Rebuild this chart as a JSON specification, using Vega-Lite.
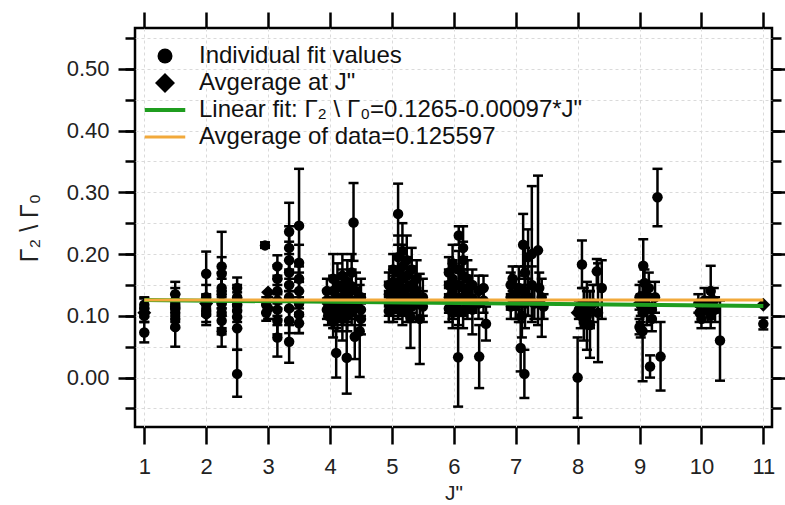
{
  "$schema": "https://vega.github.io/schema/vega-lite/v6.json",
  "width": 637,
  "height": 399,
  "autosize": {"type": "none"},
  "padding": {"left": 135, "top": 28, "right": 13, "bottom": 78},
  "background": "white",
  "config": {
    "view": {"stroke": "black", "strokeWidth": 2.5},
    "font": "Liberation Sans",
    "axis": {
      "domain": false, "tickColor": "black", "tickWidth": 2.5,
      "labelColor": "#222", "labelFont": "Liberation Sans", "labelFontSize": 22,
      "titleFont": "Liberation Sans", "titleFontWeight": "normal", "titleColor": "#222",
      "gridColor": "#dadada", "gridDash": [3, 3], "gridWidth": 1,
      "labelFlush": false, "labelOverlap": false
    },
    "legend": {
      "orient": "none", "legendX": 18, "legendY": 16,
      "labelFont": "Liberation Sans", "labelFontSize": 24, "labelColor": "#111",
      "symbolSize": 225, "symbolStrokeWidth": 0, "labelOffset": 22,
      "rowPadding": 3, "padding": 0, "labelLimit": 700
    }
  },
  "datasets": {
    "pts": [
      {"j":1.0,"g":0.073,"lo":0.057,"hi":0.090,"s":"Individual fit values"},
      {"j":1.0,"g":0.112,"lo":0.098,"hi":0.128,"s":"Individual fit values"},
      {"j":1.0,"g":0.118,"lo":0.105,"hi":0.130,"s":"Individual fit values"},
      {"j":1.0,"g":0.100,"lo":0.090,"hi":0.112,"s":"Individual fit values"},
      {"j":1.5,"g":0.135,"lo":0.118,"hi":0.155,"s":"Individual fit values"},
      {"j":1.5,"g":0.125,"lo":0.110,"hi":0.145,"s":"Individual fit values"},
      {"j":1.5,"g":0.115,"lo":0.100,"hi":0.135,"s":"Individual fit values"},
      {"j":1.5,"g":0.105,"lo":0.090,"hi":0.120,"s":"Individual fit values"},
      {"j":1.5,"g":0.095,"lo":0.080,"hi":0.112,"s":"Individual fit values"},
      {"j":1.5,"g":0.082,"lo":0.050,"hi":0.112,"s":"Individual fit values"},
      {"j":2.0,"g":0.168,"lo":0.133,"hi":0.204,"s":"Individual fit values"},
      {"j":2.0,"g":0.130,"lo":0.112,"hi":0.150,"s":"Individual fit values"},
      {"j":2.0,"g":0.118,"lo":0.100,"hi":0.135,"s":"Individual fit values"},
      {"j":2.0,"g":0.108,"lo":0.090,"hi":0.125,"s":"Individual fit values"},
      {"j":2.0,"g":0.103,"lo":0.085,"hi":0.120,"s":"Individual fit values"},
      {"j":2.25,"g":0.180,"lo":0.125,"hi":0.236,"s":"Individual fit values"},
      {"j":2.25,"g":0.168,"lo":0.140,"hi":0.195,"s":"Individual fit values"},
      {"j":2.25,"g":0.145,"lo":0.120,"hi":0.170,"s":"Individual fit values"},
      {"j":2.25,"g":0.135,"lo":0.112,"hi":0.160,"s":"Individual fit values"},
      {"j":2.25,"g":0.120,"lo":0.100,"hi":0.140,"s":"Individual fit values"},
      {"j":2.25,"g":0.105,"lo":0.080,"hi":0.130,"s":"Individual fit values"},
      {"j":2.25,"g":0.092,"lo":0.070,"hi":0.112,"s":"Individual fit values"},
      {"j":2.25,"g":0.075,"lo":0.050,"hi":0.100,"s":"Individual fit values"},
      {"j":2.5,"g":0.145,"lo":0.128,"hi":0.162,"s":"Individual fit values"},
      {"j":2.5,"g":0.130,"lo":0.110,"hi":0.150,"s":"Individual fit values"},
      {"j":2.5,"g":0.118,"lo":0.098,"hi":0.138,"s":"Individual fit values"},
      {"j":2.5,"g":0.108,"lo":0.090,"hi":0.128,"s":"Individual fit values"},
      {"j":2.5,"g":0.098,"lo":0.080,"hi":0.118,"s":"Individual fit values"},
      {"j":2.5,"g":0.080,"lo":0.045,"hi":0.115,"s":"Individual fit values"},
      {"j":2.5,"g":0.006,"lo":-0.031,"hi":0.045,"s":"Individual fit values"},
      {"j":2.95,"g":0.214,"lo":0.210,"hi":0.219,"s":"Individual fit values"},
      {"j":2.97,"g":0.118,"lo":0.105,"hi":0.130,"s":"Individual fit values"},
      {"j":2.97,"g":0.105,"lo":0.092,"hi":0.118,"s":"Individual fit values"},
      {"j":3.0,"g":0.112,"lo":0.095,"hi":0.130,"s":"Individual fit values"},
      {"j":3.15,"g":0.180,"lo":0.165,"hi":0.198,"s":"Individual fit values"},
      {"j":3.15,"g":0.160,"lo":0.138,"hi":0.182,"s":"Individual fit values"},
      {"j":3.15,"g":0.140,"lo":0.120,"hi":0.160,"s":"Individual fit values"},
      {"j":3.15,"g":0.125,"lo":0.100,"hi":0.150,"s":"Individual fit values"},
      {"j":3.15,"g":0.110,"lo":0.085,"hi":0.135,"s":"Individual fit values"},
      {"j":3.15,"g":0.092,"lo":0.070,"hi":0.112,"s":"Individual fit values"},
      {"j":3.15,"g":0.065,"lo":0.034,"hi":0.095,"s":"Individual fit values"},
      {"j":3.34,"g":0.236,"lo":0.190,"hi":0.283,"s":"Individual fit values"},
      {"j":3.34,"g":0.210,"lo":0.175,"hi":0.245,"s":"Individual fit values"},
      {"j":3.34,"g":0.190,"lo":0.160,"hi":0.220,"s":"Individual fit values"},
      {"j":3.34,"g":0.170,"lo":0.140,"hi":0.200,"s":"Individual fit values"},
      {"j":3.34,"g":0.150,"lo":0.130,"hi":0.172,"s":"Individual fit values"},
      {"j":3.34,"g":0.130,"lo":0.110,"hi":0.150,"s":"Individual fit values"},
      {"j":3.34,"g":0.112,"lo":0.085,"hi":0.140,"s":"Individual fit values"},
      {"j":3.34,"g":0.092,"lo":0.072,"hi":0.112,"s":"Individual fit values"},
      {"j":3.34,"g":0.058,"lo":0.024,"hi":0.092,"s":"Individual fit values"},
      {"j":3.5,"g":0.246,"lo":0.155,"hi":0.338,"s":"Individual fit values"},
      {"j":3.5,"g":0.186,"lo":0.155,"hi":0.215,"s":"Individual fit values"},
      {"j":3.5,"g":0.160,"lo":0.140,"hi":0.180,"s":"Individual fit values"},
      {"j":3.5,"g":0.140,"lo":0.112,"hi":0.170,"s":"Individual fit values"},
      {"j":3.5,"g":0.120,"lo":0.100,"hi":0.140,"s":"Individual fit values"},
      {"j":3.5,"g":0.102,"lo":0.072,"hi":0.130,"s":"Individual fit values"},
      {"j":3.5,"g":0.088,"lo":0.072,"hi":0.105,"s":"Individual fit values"},
      {"j":3.95,"g":0.140,"lo":0.120,"hi":0.160,"s":"Individual fit values"},
      {"j":3.95,"g":0.125,"lo":0.110,"hi":0.142,"s":"Individual fit values"},
      {"j":3.95,"g":0.110,"lo":0.095,"hi":0.128,"s":"Individual fit values"},
      {"j":3.97,"g":0.100,"lo":0.085,"hi":0.118,"s":"Individual fit values"},
      {"j":4.05,"g":0.160,"lo":0.120,"hi":0.200,"s":"Individual fit values"},
      {"j":4.05,"g":0.140,"lo":0.115,"hi":0.165,"s":"Individual fit values"},
      {"j":4.05,"g":0.122,"lo":0.100,"hi":0.145,"s":"Individual fit values"},
      {"j":4.05,"g":0.105,"lo":0.080,"hi":0.130,"s":"Individual fit values"},
      {"j":4.05,"g":0.090,"lo":0.065,"hi":0.115,"s":"Individual fit values"},
      {"j":4.1,"g":0.040,"lo":0.000,"hi":0.080,"s":"Individual fit values"},
      {"j":4.12,"g":0.150,"lo":0.115,"hi":0.185,"s":"Individual fit values"},
      {"j":4.12,"g":0.130,"lo":0.100,"hi":0.160,"s":"Individual fit values"},
      {"j":4.12,"g":0.115,"lo":0.090,"hi":0.140,"s":"Individual fit values"},
      {"j":4.12,"g":0.098,"lo":0.075,"hi":0.120,"s":"Individual fit values"},
      {"j":4.2,"g":0.165,"lo":0.130,"hi":0.200,"s":"Individual fit values"},
      {"j":4.2,"g":0.145,"lo":0.115,"hi":0.175,"s":"Individual fit values"},
      {"j":4.2,"g":0.128,"lo":0.100,"hi":0.155,"s":"Individual fit values"},
      {"j":4.2,"g":0.110,"lo":0.085,"hi":0.135,"s":"Individual fit values"},
      {"j":4.2,"g":0.095,"lo":0.060,"hi":0.130,"s":"Individual fit values"},
      {"j":4.27,"g":0.032,"lo":-0.026,"hi":0.090,"s":"Individual fit values"},
      {"j":4.28,"g":0.155,"lo":0.120,"hi":0.190,"s":"Individual fit values"},
      {"j":4.28,"g":0.135,"lo":0.110,"hi":0.160,"s":"Individual fit values"},
      {"j":4.28,"g":0.118,"lo":0.090,"hi":0.145,"s":"Individual fit values"},
      {"j":4.28,"g":0.100,"lo":0.075,"hi":0.125,"s":"Individual fit values"},
      {"j":4.38,"g":0.251,"lo":0.189,"hi":0.315,"s":"Individual fit values"},
      {"j":4.35,"g":0.170,"lo":0.140,"hi":0.200,"s":"Individual fit values"},
      {"j":4.35,"g":0.148,"lo":0.120,"hi":0.175,"s":"Individual fit values"},
      {"j":4.35,"g":0.125,"lo":0.100,"hi":0.150,"s":"Individual fit values"},
      {"j":4.35,"g":0.108,"lo":0.085,"hi":0.130,"s":"Individual fit values"},
      {"j":4.4,"g":0.066,"lo":0.030,"hi":0.100,"s":"Individual fit values"},
      {"j":4.42,"g":0.140,"lo":0.110,"hi":0.170,"s":"Individual fit values"},
      {"j":4.42,"g":0.120,"lo":0.095,"hi":0.145,"s":"Individual fit values"},
      {"j":4.48,"g":0.075,"lo":0.001,"hi":0.150,"s":"Individual fit values"},
      {"j":4.5,"g":0.130,"lo":0.100,"hi":0.160,"s":"Individual fit values"},
      {"j":4.5,"g":0.110,"lo":0.085,"hi":0.135,"s":"Individual fit values"},
      {"j":4.5,"g":0.095,"lo":0.070,"hi":0.120,"s":"Individual fit values"},
      {"j":4.95,"g":0.150,"lo":0.130,"hi":0.170,"s":"Individual fit values"},
      {"j":4.95,"g":0.135,"lo":0.115,"hi":0.155,"s":"Individual fit values"},
      {"j":4.95,"g":0.120,"lo":0.100,"hi":0.140,"s":"Individual fit values"},
      {"j":4.95,"g":0.108,"lo":0.090,"hi":0.125,"s":"Individual fit values"},
      {"j":5.02,"g":0.175,"lo":0.150,"hi":0.200,"s":"Individual fit values"},
      {"j":5.02,"g":0.155,"lo":0.130,"hi":0.180,"s":"Individual fit values"},
      {"j":5.02,"g":0.140,"lo":0.115,"hi":0.165,"s":"Individual fit values"},
      {"j":5.02,"g":0.125,"lo":0.100,"hi":0.150,"s":"Individual fit values"},
      {"j":5.02,"g":0.112,"lo":0.090,"hi":0.135,"s":"Individual fit values"},
      {"j":5.1,"g":0.265,"lo":0.215,"hi":0.314,"s":"Individual fit values"},
      {"j":5.1,"g":0.195,"lo":0.160,"hi":0.230,"s":"Individual fit values"},
      {"j":5.1,"g":0.170,"lo":0.140,"hi":0.200,"s":"Individual fit values"},
      {"j":5.1,"g":0.150,"lo":0.125,"hi":0.175,"s":"Individual fit values"},
      {"j":5.1,"g":0.130,"lo":0.105,"hi":0.155,"s":"Individual fit values"},
      {"j":5.1,"g":0.115,"lo":0.095,"hi":0.135,"s":"Individual fit values"},
      {"j":5.17,"g":0.205,"lo":0.160,"hi":0.250,"s":"Individual fit values"},
      {"j":5.17,"g":0.180,"lo":0.145,"hi":0.215,"s":"Individual fit values"},
      {"j":5.17,"g":0.160,"lo":0.130,"hi":0.190,"s":"Individual fit values"},
      {"j":5.17,"g":0.140,"lo":0.115,"hi":0.165,"s":"Individual fit values"},
      {"j":5.17,"g":0.122,"lo":0.100,"hi":0.145,"s":"Individual fit values"},
      {"j":5.17,"g":0.108,"lo":0.085,"hi":0.130,"s":"Individual fit values"},
      {"j":5.24,"g":0.190,"lo":0.150,"hi":0.230,"s":"Individual fit values"},
      {"j":5.24,"g":0.165,"lo":0.135,"hi":0.195,"s":"Individual fit values"},
      {"j":5.24,"g":0.145,"lo":0.120,"hi":0.170,"s":"Individual fit values"},
      {"j":5.24,"g":0.128,"lo":0.100,"hi":0.155,"s":"Individual fit values"},
      {"j":5.24,"g":0.112,"lo":0.090,"hi":0.135,"s":"Individual fit values"},
      {"j":5.3,"g":0.098,"lo":0.048,"hi":0.148,"s":"Individual fit values"},
      {"j":5.32,"g":0.175,"lo":0.140,"hi":0.210,"s":"Individual fit values"},
      {"j":5.32,"g":0.150,"lo":0.120,"hi":0.180,"s":"Individual fit values"},
      {"j":5.32,"g":0.130,"lo":0.105,"hi":0.155,"s":"Individual fit values"},
      {"j":5.32,"g":0.115,"lo":0.090,"hi":0.140,"s":"Individual fit values"},
      {"j":5.4,"g":0.160,"lo":0.130,"hi":0.190,"s":"Individual fit values"},
      {"j":5.4,"g":0.140,"lo":0.115,"hi":0.165,"s":"Individual fit values"},
      {"j":5.4,"g":0.120,"lo":0.095,"hi":0.145,"s":"Individual fit values"},
      {"j":5.45,"g":0.095,"lo":0.022,"hi":0.168,"s":"Individual fit values"},
      {"j":5.5,"g":0.130,"lo":0.100,"hi":0.160,"s":"Individual fit values"},
      {"j":5.5,"g":0.115,"lo":0.090,"hi":0.140,"s":"Individual fit values"},
      {"j":5.92,"g":0.170,"lo":0.145,"hi":0.195,"s":"Individual fit values"},
      {"j":5.92,"g":0.150,"lo":0.125,"hi":0.175,"s":"Individual fit values"},
      {"j":5.92,"g":0.130,"lo":0.105,"hi":0.155,"s":"Individual fit values"},
      {"j":5.92,"g":0.112,"lo":0.090,"hi":0.135,"s":"Individual fit values"},
      {"j":5.98,"g":0.185,"lo":0.155,"hi":0.215,"s":"Individual fit values"},
      {"j":5.98,"g":0.160,"lo":0.130,"hi":0.190,"s":"Individual fit values"},
      {"j":5.98,"g":0.140,"lo":0.110,"hi":0.170,"s":"Individual fit values"},
      {"j":5.98,"g":0.120,"lo":0.095,"hi":0.145,"s":"Individual fit values"},
      {"j":5.98,"g":0.105,"lo":0.080,"hi":0.130,"s":"Individual fit values"},
      {"j":6.07,"g":0.033,"lo":-0.047,"hi":0.114,"s":"Individual fit values"},
      {"j":6.08,"g":0.230,"lo":0.215,"hi":0.245,"s":"Individual fit values"},
      {"j":6.08,"g":0.175,"lo":0.145,"hi":0.205,"s":"Individual fit values"},
      {"j":6.08,"g":0.150,"lo":0.120,"hi":0.180,"s":"Individual fit values"},
      {"j":6.08,"g":0.128,"lo":0.100,"hi":0.155,"s":"Individual fit values"},
      {"j":6.08,"g":0.110,"lo":0.085,"hi":0.135,"s":"Individual fit values"},
      {"j":6.15,"g":0.210,"lo":0.175,"hi":0.245,"s":"Individual fit values"},
      {"j":6.15,"g":0.190,"lo":0.160,"hi":0.220,"s":"Individual fit values"},
      {"j":6.15,"g":0.165,"lo":0.135,"hi":0.195,"s":"Individual fit values"},
      {"j":6.15,"g":0.145,"lo":0.115,"hi":0.175,"s":"Individual fit values"},
      {"j":6.15,"g":0.125,"lo":0.100,"hi":0.150,"s":"Individual fit values"},
      {"j":6.15,"g":0.108,"lo":0.080,"hi":0.135,"s":"Individual fit values"},
      {"j":6.22,"g":0.160,"lo":0.130,"hi":0.190,"s":"Individual fit values"},
      {"j":6.22,"g":0.138,"lo":0.110,"hi":0.165,"s":"Individual fit values"},
      {"j":6.22,"g":0.118,"lo":0.095,"hi":0.140,"s":"Individual fit values"},
      {"j":6.3,"g":0.150,"lo":0.125,"hi":0.175,"s":"Individual fit values"},
      {"j":6.3,"g":0.128,"lo":0.105,"hi":0.150,"s":"Individual fit values"},
      {"j":6.3,"g":0.110,"lo":0.070,"hi":0.130,"s":"Individual fit values"},
      {"j":6.41,"g":0.034,"lo":-0.017,"hi":0.085,"s":"Individual fit values"},
      {"j":6.4,"g":0.140,"lo":0.115,"hi":0.165,"s":"Individual fit values"},
      {"j":6.4,"g":0.120,"lo":0.095,"hi":0.145,"s":"Individual fit values"},
      {"j":6.48,"g":0.145,"lo":0.125,"hi":0.165,"s":"Individual fit values"},
      {"j":6.48,"g":0.125,"lo":0.105,"hi":0.145,"s":"Individual fit values"},
      {"j":6.52,"g":0.087,"lo":0.060,"hi":0.115,"s":"Individual fit values"},
      {"j":6.92,"g":0.150,"lo":0.130,"hi":0.170,"s":"Individual fit values"},
      {"j":6.92,"g":0.130,"lo":0.110,"hi":0.150,"s":"Individual fit values"},
      {"j":6.92,"g":0.115,"lo":0.095,"hi":0.135,"s":"Individual fit values"},
      {"j":6.95,"g":0.160,"lo":0.140,"hi":0.180,"s":"Individual fit values"},
      {"j":7.0,"g":0.135,"lo":0.110,"hi":0.160,"s":"Individual fit values"},
      {"j":7.0,"g":0.118,"lo":0.095,"hi":0.140,"s":"Individual fit values"},
      {"j":7.05,"g":0.145,"lo":0.110,"hi":0.180,"s":"Individual fit values"},
      {"j":7.05,"g":0.120,"lo":0.090,"hi":0.150,"s":"Individual fit values"},
      {"j":7.08,"g":0.048,"lo":0.010,"hi":0.090,"s":"Individual fit values"},
      {"j":7.1,"g":0.100,"lo":0.065,"hi":0.135,"s":"Individual fit values"},
      {"j":7.12,"g":0.215,"lo":0.165,"hi":0.265,"s":"Individual fit values"},
      {"j":7.14,"g":0.006,"lo":-0.033,"hi":0.045,"s":"Individual fit values"},
      {"j":7.15,"g":0.170,"lo":0.130,"hi":0.210,"s":"Individual fit values"},
      {"j":7.15,"g":0.140,"lo":0.100,"hi":0.180,"s":"Individual fit values"},
      {"j":7.15,"g":0.120,"lo":0.080,"hi":0.160,"s":"Individual fit values"},
      {"j":7.2,"g":0.195,"lo":0.150,"hi":0.240,"s":"Individual fit values"},
      {"j":7.2,"g":0.130,"lo":0.100,"hi":0.160,"s":"Individual fit values"},
      {"j":7.26,"g":0.200,"lo":0.090,"hi":0.310,"s":"Individual fit values"},
      {"j":7.26,"g":0.150,"lo":0.120,"hi":0.180,"s":"Individual fit values"},
      {"j":7.3,"g":0.120,"lo":0.095,"hi":0.145,"s":"Individual fit values"},
      {"j":7.36,"g":0.206,"lo":0.085,"hi":0.327,"s":"Individual fit values"},
      {"j":7.38,"g":0.145,"lo":0.120,"hi":0.170,"s":"Individual fit values"},
      {"j":7.42,"g":0.130,"lo":0.066,"hi":0.160,"s":"Individual fit values"},
      {"j":7.45,"g":0.115,"lo":0.095,"hi":0.135,"s":"Individual fit values"},
      {"j":8.0,"g":0.000,"lo":-0.065,"hi":0.065,"s":"Individual fit values"},
      {"j":8.07,"g":0.183,"lo":0.145,"hi":0.222,"s":"Individual fit values"},
      {"j":8.02,"g":0.110,"lo":0.095,"hi":0.125,"s":"Individual fit values"},
      {"j":8.05,"g":0.100,"lo":0.080,"hi":0.120,"s":"Individual fit values"},
      {"j":8.1,"g":0.120,"lo":0.095,"hi":0.145,"s":"Individual fit values"},
      {"j":8.1,"g":0.090,"lo":0.060,"hi":0.120,"s":"Individual fit values"},
      {"j":8.15,"g":0.100,"lo":0.045,"hi":0.155,"s":"Individual fit values"},
      {"j":8.15,"g":0.115,"lo":0.090,"hi":0.140,"s":"Individual fit values"},
      {"j":8.2,"g":0.085,"lo":0.032,"hi":0.140,"s":"Individual fit values"},
      {"j":8.2,"g":0.110,"lo":0.080,"hi":0.140,"s":"Individual fit values"},
      {"j":8.25,"g":0.120,"lo":0.090,"hi":0.150,"s":"Individual fit values"},
      {"j":8.31,"g":0.172,"lo":0.150,"hi":0.192,"s":"Individual fit values"},
      {"j":8.33,"g":0.105,"lo":0.025,"hi":0.185,"s":"Individual fit values"},
      {"j":8.39,"g":0.145,"lo":0.095,"hi":0.190,"s":"Individual fit values"},
      {"j":9.29,"g":0.292,"lo":0.245,"hi":0.338,"s":"Individual fit values"},
      {"j":9.06,"g":0.181,"lo":0.138,"hi":0.224,"s":"Individual fit values"},
      {"j":9.0,"g":0.130,"lo":0.110,"hi":0.150,"s":"Individual fit values"},
      {"j":9.02,"g":0.118,"lo":0.100,"hi":0.135,"s":"Individual fit values"},
      {"j":9.05,"g":0.105,"lo":0.085,"hi":0.125,"s":"Individual fit values"},
      {"j":9.08,"g":0.153,"lo":0.130,"hi":0.175,"s":"Individual fit values"},
      {"j":9.1,"g":0.130,"lo":0.105,"hi":0.155,"s":"Individual fit values"},
      {"j":9.0,"g":0.082,"lo":0.070,"hi":0.095,"s":"Individual fit values"},
      {"j":9.02,"g":0.078,"lo":0.065,"hi":0.090,"s":"Individual fit values"},
      {"j":9.12,"g":0.110,"lo":0.085,"hi":0.135,"s":"Individual fit values"},
      {"j":9.15,"g":0.145,"lo":0.120,"hi":0.170,"s":"Individual fit values"},
      {"j":9.05,"g":0.075,"lo":-0.006,"hi":0.155,"s":"Individual fit values"},
      {"j":9.17,"g":0.018,"lo":0.000,"hi":0.036,"s":"Individual fit values"},
      {"j":9.34,"g":0.034,"lo":-0.021,"hi":0.090,"s":"Individual fit values"},
      {"j":9.2,"g":0.110,"lo":0.090,"hi":0.130,"s":"Individual fit values"},
      {"j":9.25,"g":0.130,"lo":0.105,"hi":0.155,"s":"Individual fit values"},
      {"j":9.2,"g":0.095,"lo":0.075,"hi":0.115,"s":"Individual fit values"},
      {"j":9.95,"g":0.120,"lo":0.105,"hi":0.135,"s":"Individual fit values"},
      {"j":9.97,"g":0.105,"lo":0.090,"hi":0.120,"s":"Individual fit values"},
      {"j":10.0,"g":0.095,"lo":0.080,"hi":0.110,"s":"Individual fit values"},
      {"j":10.05,"g":0.125,"lo":0.105,"hi":0.145,"s":"Individual fit values"},
      {"j":10.1,"g":0.110,"lo":0.090,"hi":0.130,"s":"Individual fit values"},
      {"j":10.15,"g":0.140,"lo":0.100,"hi":0.181,"s":"Individual fit values"},
      {"j":10.15,"g":0.100,"lo":0.080,"hi":0.120,"s":"Individual fit values"},
      {"j":10.2,"g":0.125,"lo":0.105,"hi":0.145,"s":"Individual fit values"},
      {"j":10.22,"g":0.110,"lo":0.090,"hi":0.130,"s":"Individual fit values"},
      {"j":10.3,"g":0.060,"lo":-0.005,"hi":0.125,"s":"Individual fit values"},
      {"j":11.0,"g":0.087,"lo":0.078,"hi":0.097,"s":"Individual fit values"}
    ],
    "avg": [
      {"j":1,"g":0.105,"s":"Avgerage at J\""},
      {"j":2,"g":0.120,"s":"Avgerage at J\""},
      {"j":3,"g":0.138,"s":"Avgerage at J\""},
      {"j":4,"g":0.120,"s":"Avgerage at J\""},
      {"j":5,"g":0.140,"s":"Avgerage at J\""},
      {"j":6,"g":0.125,"s":"Avgerage at J\""},
      {"j":7,"g":0.130,"s":"Avgerage at J\""},
      {"j":8,"g":0.105,"s":"Avgerage at J\""},
      {"j":9,"g":0.120,"s":"Avgerage at J\""},
      {"j":10,"g":0.105,"s":"Avgerage at J\""},
      {"j":11,"g":0.118,"s":"Avgerage at J\""}
    ],
    "fit": [
      {"j":1,"g":0.12553,"s":"Linear fit: Γ₂ \\ Γ₀=0.1265-0.00097*J\""},
      {"j":11,"g":0.11583,"s":"Linear fit: Γ₂ \\ Γ₀=0.1265-0.00097*J\""}
    ],
    "mean": [
      {"j":1,"g":0.125597,"s":"Avgerage of data=0.125597"},
      {"j":11,"g":0.125597,"s":"Avgerage of data=0.125597"}
    ]
  },
  "resolve": {"axis": {"x": "independent", "y": "independent"}},
  "layer": [
    {
      "data": {"name": "pts"},
      "mark": {"type": "rule", "color": "black", "strokeWidth": 2.5},
      "encoding": {
        "x": {"field": "j", "type": "quantitative",
          "scale": {"domain": [0.85, 11.14], "nice": false, "zero": false},
          "axis": {"orient": "top", "values": [1,2,3,4,5,6,7,8,9,10,11], "labels": false, "tickSize": 16, "grid": false, "title": null}},
        "y": {"field": "lo", "type": "quantitative",
          "scale": {"domain": [-0.08, 0.566], "nice": false, "zero": false},
          "axis": {"orient": "left", "values": [-0.05,0,0.05,0.1,0.15,0.2,0.25,0.3,0.35,0.4,0.45,0.5,0.55], "labels": false, "tickSize": 10, "grid": true, "title": null}},
        "y2": {"field": "hi"}
      }
    },
    {
      "data": {"name": "pts"},
      "mark": {"type": "tick", "orient": "horizontal", "size": 10, "thickness": 2.5, "color": "black", "opacity": 1},
      "encoding": {
        "x": {"field": "j", "type": "quantitative", "axis": null},
        "y": {"field": "hi", "type": "quantitative",
          "axis": {"orient": "right", "values": [-0.05,0,0.05,0.1,0.15,0.2,0.25,0.3,0.35,0.4,0.45,0.5,0.55], "labels": false, "tickSize": 9, "grid": false, "title": null}}
      }
    },
    {
      "data": {"name": "pts"},
      "mark": {"type": "tick", "orient": "horizontal", "size": 10, "thickness": 2.5, "color": "black", "opacity": 1},
      "encoding": {
        "x": {"field": "j", "type": "quantitative", "axis": null},
        "y": {"field": "lo", "type": "quantitative",
          "axis": {"orient": "right", "values": [0,0.1,0.2,0.3,0.4,0.5], "labels": false, "tickSize": 14, "grid": false, "title": null}}
      }
    },
    {
      "data": {"name": "pts"},
      "mark": {"type": "point", "filled": true, "size": 110, "opacity": 1},
      "encoding": {
        "x": {"field": "j", "type": "quantitative",
          "axis": {"orient": "bottom", "values": [1,2,3,4,5,6,7,8,9,10,11], "tickSize": 17, "labelPadding": 12, "grid": true, "title": "J\"", "titleFontSize": 21, "titlePadding": 5}},
        "y": {"field": "g", "type": "quantitative",
          "axis": {"orient": "left", "values": [0,0.1,0.2,0.3,0.4,0.5], "format": ".2f", "tickSize": 17, "labelPadding": 9, "grid": false, "title": "Γ₂ \\ Γ₀", "titleFontSize": 25, "titlePadding": 24}},
        "color": {"field": "s", "type": "nominal", "title": null,
          "scale": {"domain": ["Individual fit values", "Avgerage at J\"", "Linear fit: Γ₂ \\ Γ₀=0.1265-0.00097*J\"", "Avgerage of data=0.125597"],
                    "range": ["black", "black", "#1f9d1f", "#f2a93b"]}},
        "shape": {"field": "s", "type": "nominal", "title": null,
          "scale": {"domain": ["Individual fit values", "Avgerage at J\"", "Linear fit: Γ₂ \\ Γ₀=0.1265-0.00097*J\"", "Avgerage of data=0.125597"],
                    "range": ["circle", "M-1.33,0L0,-1.33L1.33,0L0,1.33Z", "M-2.7,-0.27L2.7,-0.27L2.7,0.27L-2.7,0.27Z", "M-2.7,-0.2L2.7,-0.2L2.7,0.2L-2.7,0.2Z"]}}
      }
    },
    {
      "data": {"name": "avg"},
      "mark": {"type": "point", "filled": true, "size": 110, "opacity": 1},
      "encoding": {
        "x": {"field": "j", "type": "quantitative", "axis": null},
        "y": {"field": "g", "type": "quantitative", "axis": null},
        "color": {"field": "s", "type": "nominal", "title": null},
        "shape": {"field": "s", "type": "nominal", "title": null}
      }
    },
    {
      "data": {"name": "fit"},
      "mark": {"type": "line", "strokeWidth": 4},
      "encoding": {
        "x": {"field": "j", "type": "quantitative", "axis": null},
        "y": {"field": "g", "type": "quantitative", "axis": null},
        "color": {"field": "s", "type": "nominal", "title": null}
      }
    },
    {
      "data": {"name": "mean"},
      "mark": {"type": "line", "strokeWidth": 3},
      "encoding": {
        "x": {"field": "j", "type": "quantitative", "axis": null},
        "y": {"field": "g", "type": "quantitative", "axis": null},
        "color": {"field": "s", "type": "nominal", "title": null}
      }
    }
  ]
}
